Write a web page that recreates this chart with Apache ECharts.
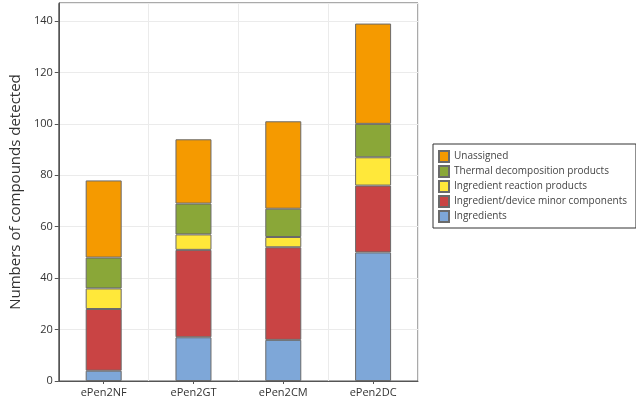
<!DOCTYPE html>
<html><head><meta charset="utf-8">
<script src="https://cdn.jsdelivr.net/npm/echarts@6/dist/echarts.min.js"></script>
<style>html,body{margin:0;padding:0;background:#fff}#c{width:636px;height:400px}</style>
</head><body><div id="c"></div>
<script>
const categories = ['ePen2NF','ePen2GT','ePen2CM','ePen2DC'];
const ingredients = [4, 17, 16, 50];
const minorComponents = [24, 34, 36, 26];
const reactionProducts = [8, 6, 4, 11];
const thermalProducts = [12, 12, 11, 13];
const unassigned = [30, 25, 34, 39];
const seriesNames = ['Ingredients','Ingredient/device minor components','Ingredient reaction products','Thermal decomposition products','Unassigned'];
const seriesColors = ['#7EA7D8','#C94444','#FFE83A','#8AA738','#F59A00'];
const seriesData = [ingredients, minorComponents, reactionProducts, thermalProducts, unassigned];
const font = 'Open Sans';
const chart = echarts.init(document.getElementById('c'));
chart.setOption({
  animation: false,
  textStyle: {fontFamily: font},
  grid: {left: 52, right: 218, top: 3, bottom: 19, show: true, borderColor: '#555', borderWidth: 1},
  legend: {
    orient: 'vertical', left: 433, top: 144,
    data: seriesNames.slice().reverse(),
    icon: 'rect', itemWidth: 10, itemHeight: 11, itemGap: 2,
    borderColor: '#333', borderWidth: 1, padding: [6, 9, 5, 5],
    textStyle: {fontFamily: font, fontSize: 10, color: '#444'}
  },
  xAxis: {
    type: 'category', data: categories,
    axisLine: {lineStyle: {color: '#555'}},
    axisTick: {show: true, alignWithLabel: true, length: 3, lineStyle: {color: '#555'}},
    axisLabel: {fontSize: 11, color: '#333', margin: 6},
    splitLine: {show: true, lineStyle: {color: '#ebebeb'}}
  },
  yAxis: {
    type: 'value', min: 0, max: 147, interval: 20,
    name: 'Numbers of compounds detected', nameLocation: 'middle', nameGap: 32,
    nameTextStyle: {fontSize: 15, color: '#333', fontFamily: font},
    axisLine: {show: true, lineStyle: {color: '#555'}},
    axisTick: {show: true, length: 4, lineStyle: {color: '#555'}},
    axisLabel: {fontSize: 11, color: '#333', showMaxLabel: false, margin: 6},
    splitLine: {lineStyle: {color: '#ebebeb'}}
  },
  series: seriesNames.map((n, i) => ({
    name: n, type: 'bar', stack: 'total', barWidth: 36,
    data: seriesData[i],
    itemStyle: {color: seriesColors[i], borderColor: '#6a6a6a', borderWidth: 1}
  }))
});
</script></body></html>
